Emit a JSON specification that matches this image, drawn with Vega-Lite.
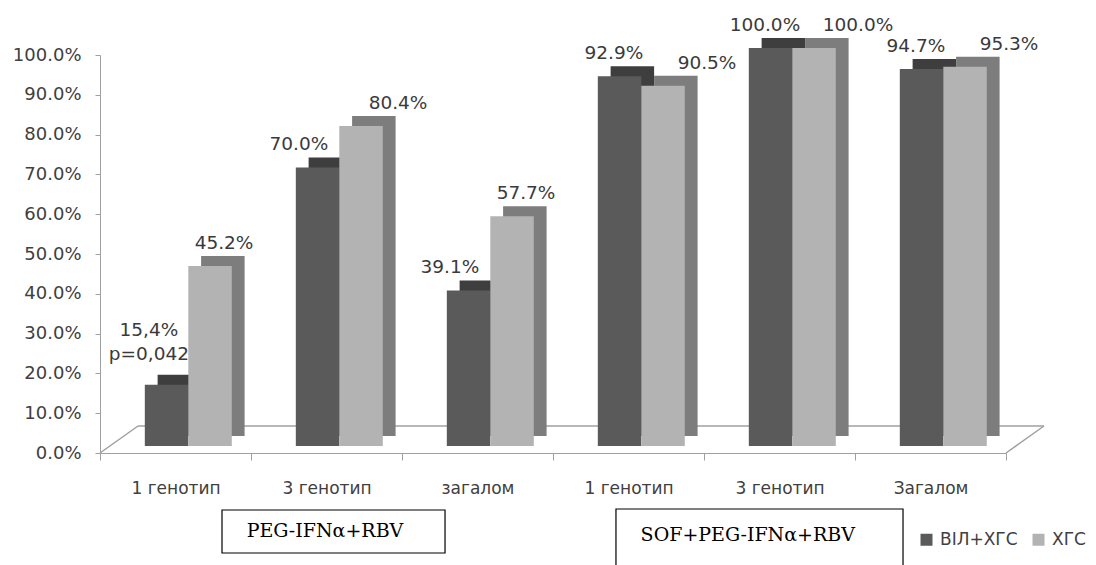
{
  "$schema": "https://vega.github.io/schema/vega-lite/v6.json",
  "width": 906,
  "height": 398,
  "autosize": {"type": "none"},
  "padding": {"left": 100, "top": 55, "right": 90, "bottom": 112},
  "background": "white",
  "config": {
    "view": {"stroke": null},
    "font": "DejaVu Sans",
    "axis": {"labelFont": "DejaVu Sans", "labelFontSize": 17, "labelColor": "#404040", "domainColor": "#a0a0a0", "tickColor": "#a0a0a0", "grid": false, "title": null},
    "axisY": {"values": [0, 0.1, 0.2, 0.3, 0.4, 0.5, 0.6, 0.7, 0.8, 0.9, 1.0], "format": ".1%", "tickSize": 5, "labelPadding": 14, "labelFontSize": 18, "labelOverlap": false},
    "axisX": {"labelAngle": 0, "tickBand": "extent", "tickSize": 7, "labelPadding": 20, "labelExpr": "['','1 генотип','3 генотип','загалом','1 генотип','3 генотип','Загалом'][datum.value]"}
  },
  "datasets": {
    "bars": [
      {"id": 1, "series": "ВІЛ+ХГС", "v": 0.154, "label": "15,4%\np=0,042", "special": true},
      {"id": 1, "series": "ХГС", "v": 0.452, "label": "45.2%", "special": false},
      {"id": 2, "series": "ВІЛ+ХГС", "v": 0.700, "label": "70.0%", "special": false},
      {"id": 2, "series": "ХГС", "v": 0.804, "label": "80.4%", "special": false},
      {"id": 3, "series": "ВІЛ+ХГС", "v": 0.391, "label": "39.1%", "special": false},
      {"id": 3, "series": "ХГС", "v": 0.577, "label": "57.7%", "special": false},
      {"id": 4, "series": "ВІЛ+ХГС", "v": 0.929, "label": "92.9%", "special": false},
      {"id": 4, "series": "ХГС", "v": 0.905, "label": "90.5%", "special": false},
      {"id": 5, "series": "ВІЛ+ХГС", "v": 1.0, "label": "100.0%", "special": false},
      {"id": 5, "series": "ХГС", "v": 1.0, "label": "100.0%", "special": false},
      {"id": 6, "series": "ВІЛ+ХГС", "v": 0.947, "label": "94.7%", "special": false},
      {"id": 6, "series": "ХГС", "v": 0.953, "label": "95.3%", "special": false}
    ],
    "floor": [{"id": 1, "id2": 6, "base": 0}],
    "groups": [
      {"id": 1, "id2": 3, "tid": 2, "t": "PEG-IFNα+RBV"},
      {"id": 4, "id2": 6, "tid": 5, "t": "SOF+PEG-IFNα+RBV"}
    ]
  },
  "resolve": {"scale": {"xOffset": "independent"}},
  "layer": [
    {
      "data": {"name": "floor"},
      "mark": {"type": "rule", "color": "#a0a0a0", "strokeWidth": 1.5, "xOffset": 38, "x2Offset": 38, "yOffset": -27, "y2Offset": -27},
      "encoding": {
        "x": {"field": "id", "type": "ordinal", "bandPosition": 0, "scale": {"domain": [1, 2, 3, 4, 5, 6], "paddingInner": 0, "paddingOuter": 0}},
        "x2": {"field": "id2", "bandPosition": 1},
        "y": {"field": "base", "type": "quantitative", "scale": {"domain": [0, 1], "nice": false}},
        "y2": {"field": "base"}
      }
    },
    {
      "data": {"name": "floor"},
      "mark": {"type": "rule", "color": "#a0a0a0", "strokeWidth": 1.5, "x2Offset": 38, "y2Offset": -27},
      "encoding": {
        "x": {"field": "id", "type": "ordinal", "bandPosition": 0},
        "x2": {"field": "id", "bandPosition": 0},
        "y": {"field": "base", "type": "quantitative"},
        "y2": {"field": "base"}
      }
    },
    {
      "data": {"name": "floor"},
      "mark": {"type": "rule", "color": "#a0a0a0", "strokeWidth": 1.5, "x2Offset": 38, "y2Offset": -27},
      "encoding": {
        "x": {"field": "id2", "type": "ordinal", "bandPosition": 1},
        "x2": {"field": "id2", "bandPosition": 1},
        "y": {"field": "base", "type": "quantitative"},
        "y2": {"field": "base"}
      }
    },
    {
      "data": {"name": "bars"},
      "mark": {"type": "bar", "yOffset": -17, "y2Offset": -17},
      "encoding": {
        "x": {"field": "id", "type": "ordinal"},
        "y": {"field": "v", "type": "quantitative"},
        "xOffset": {"field": "series", "type": "nominal", "scale": {"domain": ["ВІЛ+ХГС", "ХГС"], "paddingInner": 0, "paddingOuter": 0.736, "align": 0.9}},
        "color": {"condition": {"test": "datum.series === 'ХГС'", "value": "#7d7d7d"}, "value": "#3e3e3e"}
      }
    },
    {
      "data": {"name": "bars"},
      "mark": {"type": "bar", "yOffset": -7, "y2Offset": -7},
      "encoding": {
        "x": {"field": "id", "type": "ordinal"},
        "y": {"field": "v", "type": "quantitative"},
        "xOffset": {"field": "series", "type": "nominal", "scale": {"domain": ["ВІЛ+ХГС", "ХГС"], "paddingInner": 0, "paddingOuter": 0.736, "align": 0.7}},
        "color": {
          "field": "series", "type": "nominal",
          "scale": {"domain": ["ВІЛ+ХГС", "ХГС"], "range": ["#5a5a5a", "#b3b3b3"]},
          "legend": {
            "title": null, "orient": "none", "legendX": 818, "legendY": 476, "direction": "horizontal",
            "symbolType": "square", "symbolSize": 144, "symbolStrokeWidth": 0,
            "labelFont": "DejaVu Sans", "labelFontSize": 17, "labelColor": "#404040",
            "columnPadding": 12, "labelOffset": 5, "padding": 0
          }
        }
      }
    },
    {
      "data": {"name": "bars"},
      "transform": [{"filter": "datum.series === 'ВІЛ+ХГС' && !datum.special && datum.id <= 3"}],
      "mark": {"type": "text", "fontSize": 18.5, "color": "#3a3a3a", "baseline": "alphabetic", "dy": -24, "dx": -15},
      "encoding": {
        "x": {"field": "id", "type": "ordinal"},
        "y": {"field": "v", "type": "quantitative"},
        "xOffset": {"field": "series", "type": "nominal", "scale": {"domain": ["ВІЛ+ХГС", "ХГС"], "paddingInner": 0, "paddingOuter": 0.736, "align": 0.7}},
        "text": {"field": "label"}
      }
    },
    {
      "data": {"name": "bars"},
      "transform": [{"filter": "datum.series === 'ВІЛ+ХГС' && datum.id >= 4"}],
      "mark": {"type": "text", "fontSize": 18.5, "color": "#3a3a3a", "baseline": "alphabetic", "dy": -24, "dx": -2},
      "encoding": {
        "x": {"field": "id", "type": "ordinal"},
        "y": {"field": "v", "type": "quantitative"},
        "xOffset": {"field": "series", "type": "nominal", "scale": {"domain": ["ВІЛ+ХГС", "ХГС"], "paddingInner": 0, "paddingOuter": 0.736, "align": 0.7}},
        "text": {"field": "label"}
      }
    },
    {
      "data": {"name": "bars"},
      "transform": [{"filter": "datum.series === 'ХГС' && (datum.id === 1 || datum.id === 3)"}],
      "mark": {"type": "text", "fontSize": 18.5, "color": "#3a3a3a", "baseline": "alphabetic", "dy": -24, "dx": 0},
      "encoding": {
        "x": {"field": "id", "type": "ordinal"},
        "y": {"field": "v", "type": "quantitative"},
        "xOffset": {"field": "series", "type": "nominal", "scale": {"domain": ["ВІЛ+ХГС", "ХГС"], "paddingInner": 0, "paddingOuter": 0.736, "align": 0.7}},
        "text": {"field": "label"}
      }
    },
    {
      "data": {"name": "bars"},
      "transform": [{"filter": "datum.series === 'ХГС' && datum.id === 2"}],
      "mark": {"type": "text", "fontSize": 18.5, "color": "#3a3a3a", "baseline": "alphabetic", "dy": -24, "dx": 23},
      "encoding": {
        "x": {"field": "id", "type": "ordinal"},
        "y": {"field": "v", "type": "quantitative"},
        "xOffset": {"field": "series", "type": "nominal", "scale": {"domain": ["ВІЛ+ХГС", "ХГС"], "paddingInner": 0, "paddingOuter": 0.736, "align": 0.7}},
        "text": {"field": "label"}
      }
    },
    {
      "data": {"name": "bars"},
      "transform": [{"filter": "datum.series === 'ХГС' && datum.id >= 4"}],
      "mark": {"type": "text", "fontSize": 18.5, "color": "#3a3a3a", "baseline": "alphabetic", "dy": -24, "dx": 30},
      "encoding": {
        "x": {"field": "id", "type": "ordinal"},
        "y": {"field": "v", "type": "quantitative"},
        "xOffset": {"field": "series", "type": "nominal", "scale": {"domain": ["ВІЛ+ХГС", "ХГС"], "paddingInner": 0, "paddingOuter": 0.736, "align": 0.7}},
        "text": {"field": "label"}
      }
    },
    {
      "data": {"name": "bars"},
      "transform": [{"filter": "datum.special"}],
      "mark": {"type": "text", "fontSize": 18.5, "color": "#3a3a3a", "baseline": "alphabetic", "dy": -56, "dx": -14, "lineBreak": "\n", "lineHeight": 24},
      "encoding": {
        "x": {"field": "id", "type": "ordinal"},
        "y": {"field": "v", "type": "quantitative"},
        "xOffset": {"field": "series", "type": "nominal", "scale": {"domain": ["ВІЛ+ХГС", "ХГС"], "paddingInner": 0, "paddingOuter": 0.736, "align": 0.7}},
        "text": {"field": "label"}
      }
    },
    {
      "data": {"name": "groups"},
      "transform": [{"filter": "datum.id === 1"}],
      "mark": {"type": "rect", "fill": "white", "fillOpacity": 0, "stroke": "black", "strokeWidth": 1.2},
      "encoding": {
        "x": {"field": "id", "type": "ordinal", "bandPosition": 0.808},
        "x2": {"field": "id2", "bandPosition": 0.285},
        "y": {"datum": -0.1432, "type": "quantitative"},
        "y2": {"datum": -0.2513}
      }
    },
    {
      "data": {"name": "groups"},
      "transform": [{"filter": "datum.id === 4"}],
      "mark": {"type": "rect", "fill": "white", "fillOpacity": 0, "stroke": "black", "strokeWidth": 1.2},
      "encoding": {
        "x": {"field": "id", "type": "ordinal", "bandPosition": 0.417},
        "x2": {"field": "id2", "bandPosition": 0.318},
        "y": {"datum": -0.1407, "type": "quantitative"},
        "y2": {"datum": -0.30}
      }
    },
    {
      "data": {"name": "groups"},
      "transform": [{"filter": "datum.id === 1"}],
      "mark": {"type": "text", "font": "DejaVu Serif", "fontSize": 19, "color": "black", "baseline": "alphabetic", "align": "center"},
      "encoding": {
        "x": {"field": "tid", "type": "ordinal", "bandPosition": 0.49},
        "y": {"datum": -0.211, "type": "quantitative"},
        "text": {"field": "t"}
      }
    },
    {
      "data": {"name": "groups"},
      "transform": [{"filter": "datum.id === 4"}],
      "mark": {"type": "text", "font": "DejaVu Serif", "fontSize": 19, "color": "black", "baseline": "alphabetic", "align": "center"},
      "encoding": {
        "x": {"field": "tid", "type": "ordinal", "bandPosition": 0.29},
        "y": {"datum": -0.221, "type": "quantitative"},
        "text": {"field": "t"}
      }
    }
  ]
}
